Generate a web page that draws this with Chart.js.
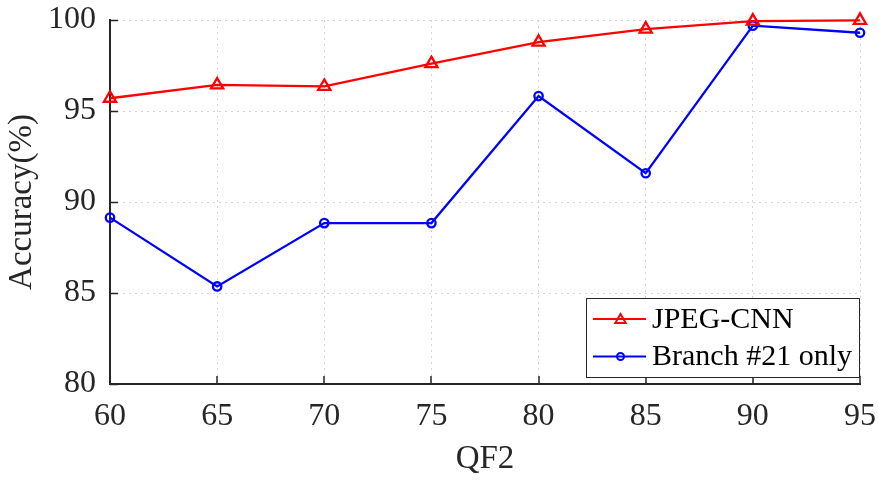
<!DOCTYPE html>
<html>
<head>
<meta charset="utf-8">
<script src="https://cdn.jsdelivr.net/npm/chart.js@4/dist/chart.umd.min.js"></script>
<style>
  html, body { margin: 0; padding: 0; background: #fff; }
  canvas { display: block; }
</style>
</head>
<body>
<canvas id="c" width="878" height="480"></canvas>
<script>
// QF2 quality factors and accuracy (%) for each method
const qf2 = [60, 65, 70, 75, 80, 85, 90, 95];
const jpegCnn = [95.70, 96.43, 96.35, 97.60, 98.78, 99.50, 99.94, 99.98];
const branch21 = [89.14, 85.36, 88.84, 88.84, 95.82, 91.58, 99.69, 99.30];
const xTicks = [60, 65, 70, 75, 80, 85, 90, 95];
const yTicks = [80, 85, 90, 95, 100];
const seriesNames = ['JPEG-CNN', 'Branch #21 only'];

const FONT = '"Liberation Serif", "Times New Roman", serif';
const INK = '#262626';

function pts(values) {
  return qf2.map((q, i) => ({ x: q, y: values[i] }));
}

// Fixed axis box sizes; the outer margins come from layout.padding alone
function fixBox(s, size) {
  if (s.isHorizontal()) s.height = size; else s.width = size;
  s.paddingTop = 0;
  s.paddingBottom = 0;
  s.paddingLeft = 0;
  s.paddingRight = 0;
}

// Short tick marks pointing into the plot, like a MATLAB figure
const innerTicks = {
  id: 'innerTicks',
  afterDraw(chart) {
    const { ctx, chartArea: a } = chart;
    const xs = chart.scales.x, ys = chart.scales.y;
    const len = 8;
    ctx.save();
    ctx.strokeStyle = INK;
    ctx.lineWidth = 1.5;
    ctx.beginPath();
    xTicks.forEach(v => {
      const px = Math.round(xs.getPixelForValue(v));
      ctx.moveTo(px, a.bottom);
      ctx.lineTo(px, a.bottom - len);
    });
    yTicks.forEach(v => {
      const py = Math.round(ys.getPixelForValue(v)) + 0.5;
      ctx.moveTo(a.left, py);
      ctx.lineTo(a.left + len, py);
    });
    ctx.stroke();
    ctx.restore();
  }
};

// Boxed legend in the lower right corner of the plot
const boxLegend = {
  id: 'boxLegend',
  afterDraw(chart) {
    const { ctx, chartArea: a } = chart;
    const w = 273, h = 79;
    const x0 = a.right - w - 1, y0 = a.bottom - h - 7;
    ctx.save();
    ctx.fillStyle = '#fff';
    ctx.fillRect(x0, y0, w, h);
    ctx.strokeStyle = INK;
    ctx.lineWidth = 1;
    ctx.strokeRect(x0 + 0.5, y0 + 0.5, w, h);
    const rows = [y0 + 21, y0 + 58.5];
    chart.data.datasets.forEach((ds, i) => {
      const y = rows[i];
      ctx.strokeStyle = ds.borderColor;
      ctx.lineWidth = 2;
      ctx.beginPath();
      ctx.moveTo(x0 + 7, y);
      ctx.lineTo(x0 + 60, y);
      ctx.stroke();
      const opts = {
        pointStyle: ds.pointStyle,
        radius: ds.pointStyle === 'triangle' ? 6 : 3.5,
        rotation: 0,
        borderWidth: 2
      };
      ctx.fillStyle = 'rgba(0,0,0,0)';
      ctx.strokeStyle = ds.borderColor;
      Chart.helpers.drawPoint(ctx, opts, x0 + 34.5, y + (ds.pointStyle === 'triangle' ? 1 : 0));
      ctx.fillStyle = '#000';
      ctx.font = '30px ' + FONT;
      ctx.textBaseline = 'middle';
      ctx.textAlign = 'left';
      ctx.fillText(ds.label, x0 + 66, y + 1);
    });
    ctx.restore();
  }
};

new Chart(document.getElementById('c'), {
  type: 'line',
  data: {
    datasets: [
      {
        label: seriesNames[0],
        data: pts(jpegCnn),
        borderColor: '#ff0000',
        borderWidth: 2.3,
        pointStyle: 'triangle',
        pointRadius: 7,
        pointBorderWidth: 2.3,
        pointBackgroundColor: 'rgba(0,0,0,0)',
        pointBorderColor: '#ff0000',
        tension: 0,
        clip: false
      },
      {
        label: seriesNames[1],
        data: pts(branch21),
        borderColor: '#0000ff',
        borderWidth: 2.3,
        pointStyle: 'circle',
        pointRadius: 4.2,
        pointBorderWidth: 2.3,
        pointBackgroundColor: 'rgba(0,0,0,0)',
        pointBorderColor: '#0000ff',
        tension: 0,
        clip: false
      }
    ]
  },
  options: {
    responsive: false,
    animation: false,
    events: [],
    layout: { padding: { top: 20, right: 18, left: 0, bottom: 0 } },
    plugins: {
      legend: { display: false },
      tooltip: { enabled: false }
    },
    scales: {
      x: {
        type: 'linear',
        min: 60,
        max: 95,
        afterBuildTicks(s) { s.ticks = xTicks.map(v => ({ value: v })); },
        afterFit(s) { fixBox(s, 96); },
        ticks: {
          color: INK,
          font: { family: FONT, size: 32 },
          padding: 13,
          maxRotation: 0
        },
        grid: { color: '#d4d4d4', lineWidth: 1, drawTicks: false },
        border: { display: true, color: INK, width: 2, dash: [2, 4] },
        title: {
          display: true,
          text: 'QF2',
          color: INK,
          font: { family: FONT, size: 33 },
          padding: { top: 0, bottom: 1 }
        }
      },
      y: {
        min: 80,
        max: 100,
        afterBuildTicks(s) { s.ticks = yTicks.map(v => ({ value: v })); },
        afterFit(s) { fixBox(s, 110); },
        ticks: {
          color: INK,
          font: { family: FONT, size: 32 },
          padding: 14
        },
        grid: { color: '#d4d4d4', lineWidth: 1, drawTicks: false },
        border: { display: true, color: INK, width: 2, dash: [2, 4] },
        title: {
          display: true,
          text: 'Accuracy(%)',
          color: INK,
          font: { family: FONT, size: 33 },
          padding: { top: 3, bottom: 0 }
        }
      }
    }
  },
  plugins: [innerTicks, boxLegend]
});
</script>
</body>
</html>
